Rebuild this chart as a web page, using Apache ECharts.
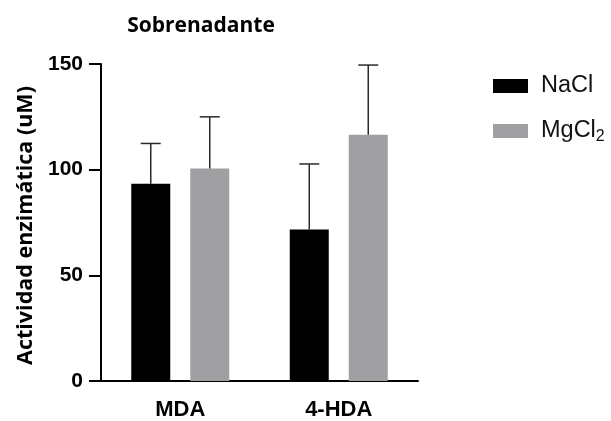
<!DOCTYPE html>
<html>
<head>
<meta charset="utf-8">
<script src="https://cdn.jsdelivr.net/npm/echarts@6/dist/echarts.min.js"></script>
<style>html,body{margin:0;padding:0;background:#fff;}#c{width:611px;height:421px;}</style>
</head>
<body>
<div id="c"></div>
<script>
const categories = ['MDA', '4-HDA'];
const naclMean = [93.3, 71.7];
const naclErr = [19.1, 31.0];
const mgcl2Mean = [100.5, 116.5];
const mgcl2Err = [24.5, 33.0];
const yTicks = [0, 50, 100, 150];

const BAR_W = 39;
const BAR_GAP = 20;

function errSeries(name, means, errs, side) {
  return {
    type: 'custom',
    name: name + ' err',
    z: 5,
    silent: true,
    data: means.map((m, i) => [i, m, m + errs[i]]),
    renderItem: function (params, api) {
      const off = side * (BAR_W + BAR_GAP) / 2;
      const base = api.coord([api.value(0), api.value(1)]);
      const top = api.coord([api.value(0), api.value(2)]);
      const x = base[0] + off;
      const half = 10;
      const st = { stroke: '#2a2a2a', lineWidth: 1.5 };
      return {
        type: 'group',
        children: [
          { type: 'line', shape: { x1: x, y1: base[1], x2: x, y2: top[1] }, style: st },
          { type: 'line', shape: { x1: x - half, y1: top[1], x2: x + half, y2: top[1] }, style: st }
        ]
      };
    }
  };
}

const chart = echarts.init(document.getElementById('c'), null, { renderer: 'canvas' });
chart.setOption({
  animation: false,
  backgroundColor: '#ffffff',
  title: {
    text: 'Sobrenadante',
    left: 196, top: 11, textAlign: 'center',
    textStyle: { fontFamily: 'Open Sans', fontWeight: 'bold', fontSize: 21, color: '#000' }
  },
  legend: {
    orient: 'vertical',
    left: 488, top: 69,
    icon: 'rect',
    itemWidth: 35, itemHeight: 14, itemGap: 21,
    data: ['NaCl', 'MgCl2'],
    formatter: function (n) { return n === 'MgCl2' ? 'MgCl{s|2}' : n; },
    textStyle: {
      fontFamily: 'Liberation Sans', fontSize: 23.5, color: '#111', padding: [0, 0, 0, 8],
      rich: { s: { fontFamily: 'Liberation Sans', fontSize: 16, color: '#111', verticalAlign: 'bottom', padding: [12, 0, 0, 0] } }
    }
  },
  grid: { left: 101, right: 193, top: 64, bottom: 39, containLabel: false },
  xAxis: {
    type: 'category',
    data: categories,
    axisLine: { lineStyle: { color: '#000', width: 2 } },
    axisTick: { alignWithLabel: true, length: 12, lineStyle: { color: '#000', width: 2 } },
    axisLabel: { margin: 18, fontFamily: 'Liberation Sans', fontWeight: 'bold', fontSize: 22, color: '#000' }
  },
  yAxis: {
    type: 'value',
    min: 0, max: 150, interval: 50,
    name: 'Actividad enzimática (uM)',
    nameLocation: 'middle', nameGap: 64,
    nameTextStyle: { fontFamily: 'Open Sans', fontWeight: 'bold', fontSize: 21.5, color: '#000', padding: [0, 6, 0, 0] },
    axisLine: { show: true, lineStyle: { color: '#000', width: 2 } },
    axisTick: { show: true, length: 12, lineStyle: { color: '#000', width: 2 } },
    axisLabel: {
      margin: 18, fontFamily: 'Liberation Sans', fontWeight: 'bold', fontSize: 21, color: '#000',
      formatter: function (v) { return yTicks.indexOf(v) >= 0 ? String(v) : ''; }
    },
    splitLine: { show: false }
  },
  series: [
    { type: 'bar', name: 'NaCl', data: naclMean, barWidth: BAR_W, barGap: (BAR_GAP / BAR_W * 100) + '%', itemStyle: { color: '#000' } },
    { type: 'bar', name: 'MgCl2', data: mgcl2Mean, barWidth: BAR_W, itemStyle: { color: '#a0a0a3' } },
    errSeries('NaCl', naclMean, naclErr, -1),
    errSeries('MgCl2', mgcl2Mean, mgcl2Err, 1)
  ]
});
</script>
</body>
</html>
